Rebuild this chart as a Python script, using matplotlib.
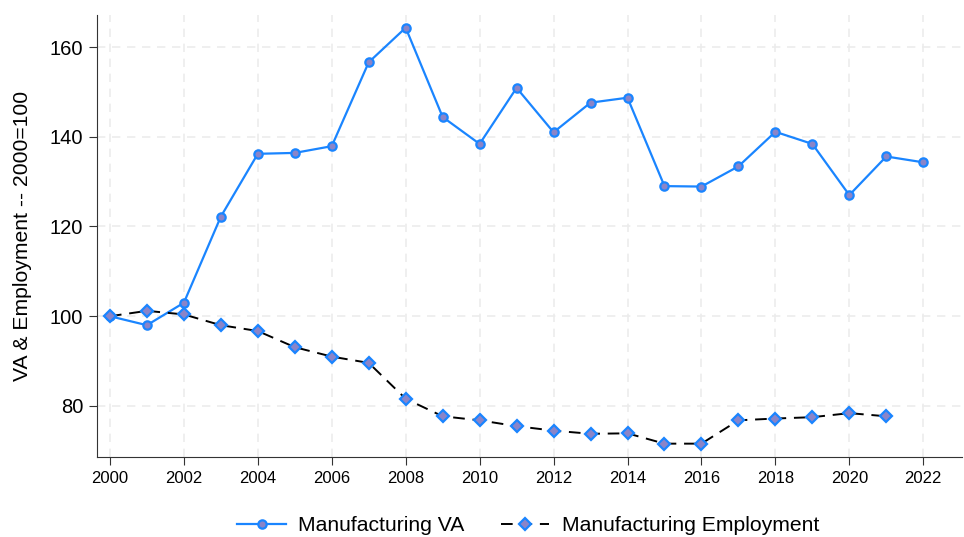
import matplotlib
matplotlib.use("Agg")
import matplotlib.pyplot as plt

years = list(range(2000, 2023))
va = [100, 98.0, 103.0, 122.2, 136.2, 136.4, 137.9, 156.6, 164.3, 144.4, 138.4,
      150.9, 141.0, 147.6, 148.7, 129.0, 128.9, 133.4, 141.1, 138.4, 127.0, 135.6, 134.3]
emp_years = list(range(2000, 2022))
emp = [100, 101.2, 100.4, 98.0, 96.7, 93.1, 91.0, 89.6, 81.6, 77.7, 76.8,
       75.5, 74.5, 73.8, 73.9, 71.6, 71.6, 76.8, 77.2, 77.5, 78.4, 77.7]

plt.rcParams['font.family'] = ['Liberation Sans', 'DejaVu Sans']

fig = plt.figure(figsize=(9.64, 5.37), dpi=100)
ax = fig.add_axes([0.101, 0.1496, 0.897, 0.823])

blue = '#1a85ff'
fill = '#8a84c8'

ax.plot(years, va, color=blue, linewidth=1.6, marker='o', markersize=6,
        markerfacecolor=fill, markeredgecolor=blue, markeredgewidth=1.6,
        label='Manufacturing VA', zorder=3)
ax.plot(emp_years, emp, color='black', linewidth=1.4, linestyle=(0, (6, 4)),
        marker='D', markersize=6, markerfacecolor=fill, markeredgecolor=blue,
        markeredgewidth=1.6, label='Manufacturing Employment', zorder=3)

ax.set_xlim(1999.66, 2023.05)
ax.set_ylim(68.7, 167.2)
ax.set_xticks(range(2000, 2023, 2))
ax.set_yticks([80, 100, 120, 140, 160])
ax.tick_params(axis='x', labelsize=12, length=6, pad=4.5, color='#333333')
ax.tick_params(axis='y', labelsize=14.5, length=6, pad=4.3, color='#333333')
ax.grid(True, linestyle=(0, (5, 4)), color='#ececec', linewidth=1.2, zorder=0)
ax.set_axisbelow(True)
for s in ['top', 'right']:
    ax.spines[s].set_visible(False)
ax.spines['left'].set_color('#333333')
ax.spines['bottom'].set_color('#333333')
ax.set_ylabel('VA & Employment -- 2000=100', fontsize=15.2, labelpad=13)

fig.legend(loc='center', bbox_to_anchor=(0.548, 0.021), ncol=2, frameon=False,
           fontsize=15.2, handlelength=2.3, columnspacing=1.7, handletextpad=0.6)

fig.savefig('out.png', dpi=100)
